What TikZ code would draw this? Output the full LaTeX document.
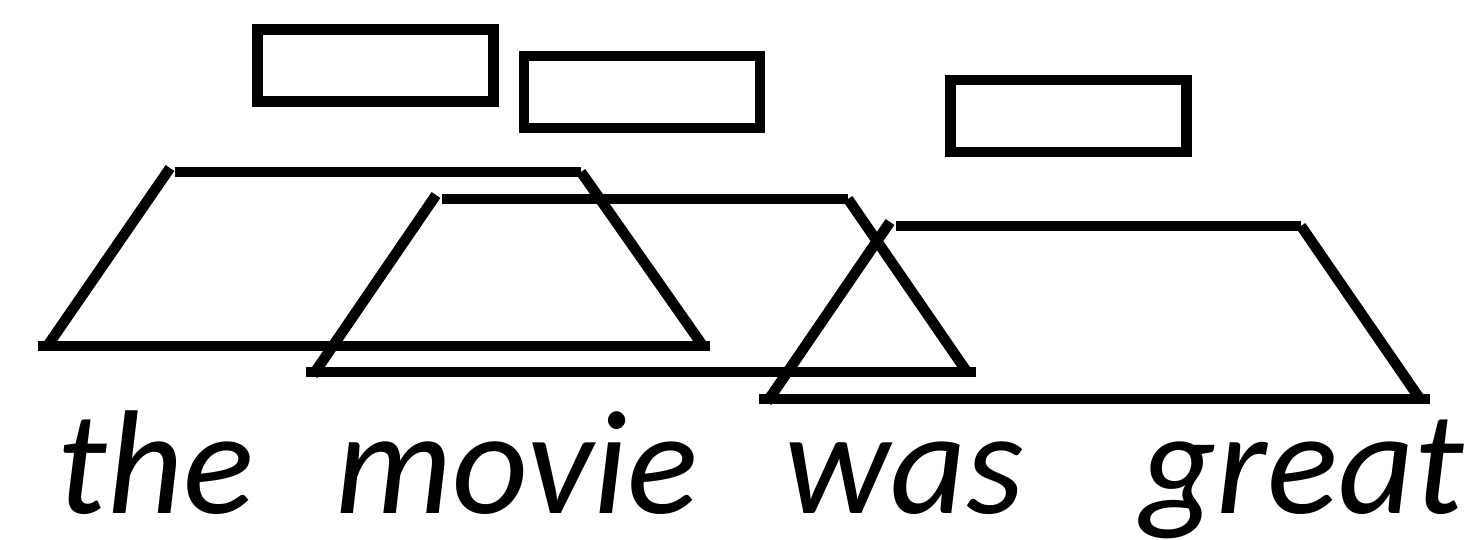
\documentclass[tikz,border=0pt]{standalone}
\usepackage{fontspec}
\setmainfont{Carlito}
\begin{document}
\begin{tikzpicture}[x=1pt,y=-1pt,
  seg/.style={line width=10.5pt},
  box/.style={draw,rectangle,line width=10.5pt,inner sep=0pt,minimum width=236pt,minimum height=72pt},
  word/.style={anchor=base,inner sep=0pt,font=\fontsize{148}{148}\selectfont\itshape}]
\useasboundingbox (0,0) rectangle (1481,540);
% boxes
\node[box] (b1) at (375.5,65.5) {};
\node[box] (b2) at (642,92) {};
\node[box] (b3) at (1068.5,116) {};
% trapezoid 1
\coordinate (t1a) at (170,168);
\coordinate (t1b) at (175,172);
\coordinate (t1c) at (581,172);
\coordinate (t1d) at (703,346);
\coordinate (t1e) at (38,346);
\coordinate (t1f) at (710,346);
\coordinate (t1g) at (46,348);
\draw[seg] (t1b) -- (t1c);
\draw[seg] (t1a) -- (t1g);
\draw[seg] (t1e) -- (t1f);
\draw[seg] (t1c) -- (t1d);
% trapezoid 2
\coordinate (t2a) at (436,195);
\coordinate (t2b) at (442,199);
\coordinate (t2c) at (848,199);
\coordinate (t2d) at (967,372);
\coordinate (t2e) at (306,372);
\coordinate (t2f) at (976,372);
\coordinate (t2g) at (313,375);
\draw[seg] (t2b) -- (t2c);
\draw[seg] (t2a) -- (t2g);
\draw[seg] (t2e) -- (t2f);
\draw[seg] (t2c) -- (t2d);
% trapezoid 3
\coordinate (t3a) at (890,222);
\coordinate (t3b) at (896,226);
\coordinate (t3c) at (1301,226);
\coordinate (t3d) at (1420,399);
\coordinate (t3e) at (759,399);
\coordinate (t3f) at (1430,399);
\coordinate (t3g) at (767,402);
\draw[seg] (t3b) -- (t3c);
\draw[seg] (t3a) -- (t3g);
\draw[seg] (t3e) -- (t3f);
\draw[seg] (t3c) -- (t3d);
% words
\node[word] (w1) at (156,513) {the};
\node[word] (w2) at (517,513) {movie};
\node[word] (w3) at (904,513) {was};
\node[word] (w4) at (1302,513) {great};
\end{tikzpicture}
\end{document}
